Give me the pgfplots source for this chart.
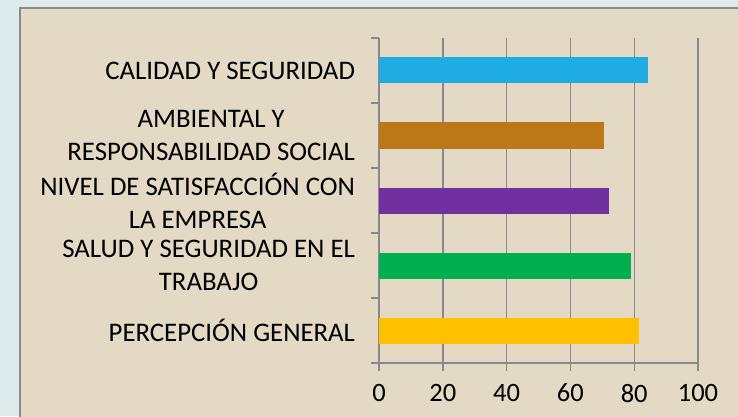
\documentclass[border=0pt]{standalone}
\usepackage{fontspec}
\setmainfont{Carlito}
\usepackage{pgfplots}
\pgfplotsset{compat=1.18}
\definecolor{outerbg}{HTML}{DDEBEC}
\definecolor{panel}{HTML}{E3D9C5}
\definecolor{framec}{HTML}{8A8A8A}
\definecolor{gridc}{HTML}{898989}
\definecolor{cBlue}{HTML}{1EACE3}
\definecolor{cBrown}{HTML}{BC7716}
\definecolor{cPurple}{HTML}{7030A0}
\definecolor{cGreen}{HTML}{00B050}
\definecolor{cGold}{HTML}{FFC000}
\begin{document}
\begin{tikzpicture}[x=1bp,y=1bp]
\useasboundingbox (0,0) rectangle (738,416);
\fill[outerbg] (0,0) rectangle (738,416);
\fill[panel] (20,-5) rectangle (745,408);
\draw[framec, line width=2bp] (20,-5) -- (20,408) -- (745,408);
\begin{axis}[
  at={(379bp,53bp)}, anchor=south west,
  scale only axis, width=319bp, height=325bp,
  xmin=0, xmax=100, ymin=-0.5, ymax=4.5,
  xbar, bar width=26bp, bar shift=0pt,
  axis x line=bottom, axis y line=left,
  axis line style={-, gridc, line width=1.4bp},
  xtick={0,20,...,100},
  xmajorgrids, grid style={gridc, line width=1.4bp},
  tick align=outside,
  major tick length=8bp, minor tick length=8bp,
  major x tick style={gridc, line width=1.4bp},
  major y tick style={draw=none},
  minor y tick style={gridc, line width=1.4bp},
  ytick={0,1,2,3,4},
  minor ytick={-0.5,0.5,1.5,2.5,3.5,4.5},
  yticklabels={PERCEPCIÓN GENERAL, {SALUD Y SEGURIDAD EN EL\\TRABAJO}, {NIVEL DE SATISFACCIÓN CON\\LA EMPRESA}, {AMBIENTAL Y\\RESPONSABILIDAD SOCIAL}, CALIDAD Y SEGURIDAD},
  yticklabel style={align=center, font=\fontsize{26.8bp}{33bp}\selectfont, xshift=-12.5bp},
  xticklabel style={font=\fontsize{26.5bp}{32.5bp}\selectfont, yshift=-9.5bp},
  /pgf/number format/assume math mode=true,
  clip=false,
]
\addplot[fill=cGold, draw=none] coordinates {(81.5,0)};
\addplot[fill=cGreen, draw=none] coordinates {(79.0,1)};
\addplot[fill=cPurple, draw=none] coordinates {(72.1,2)};
\addplot[fill=cBrown, draw=none] coordinates {(70.5,3)};
\addplot[fill=cBlue, draw=none] coordinates {(84.3,4)};
\end{axis}
\end{tikzpicture}
\end{document}
